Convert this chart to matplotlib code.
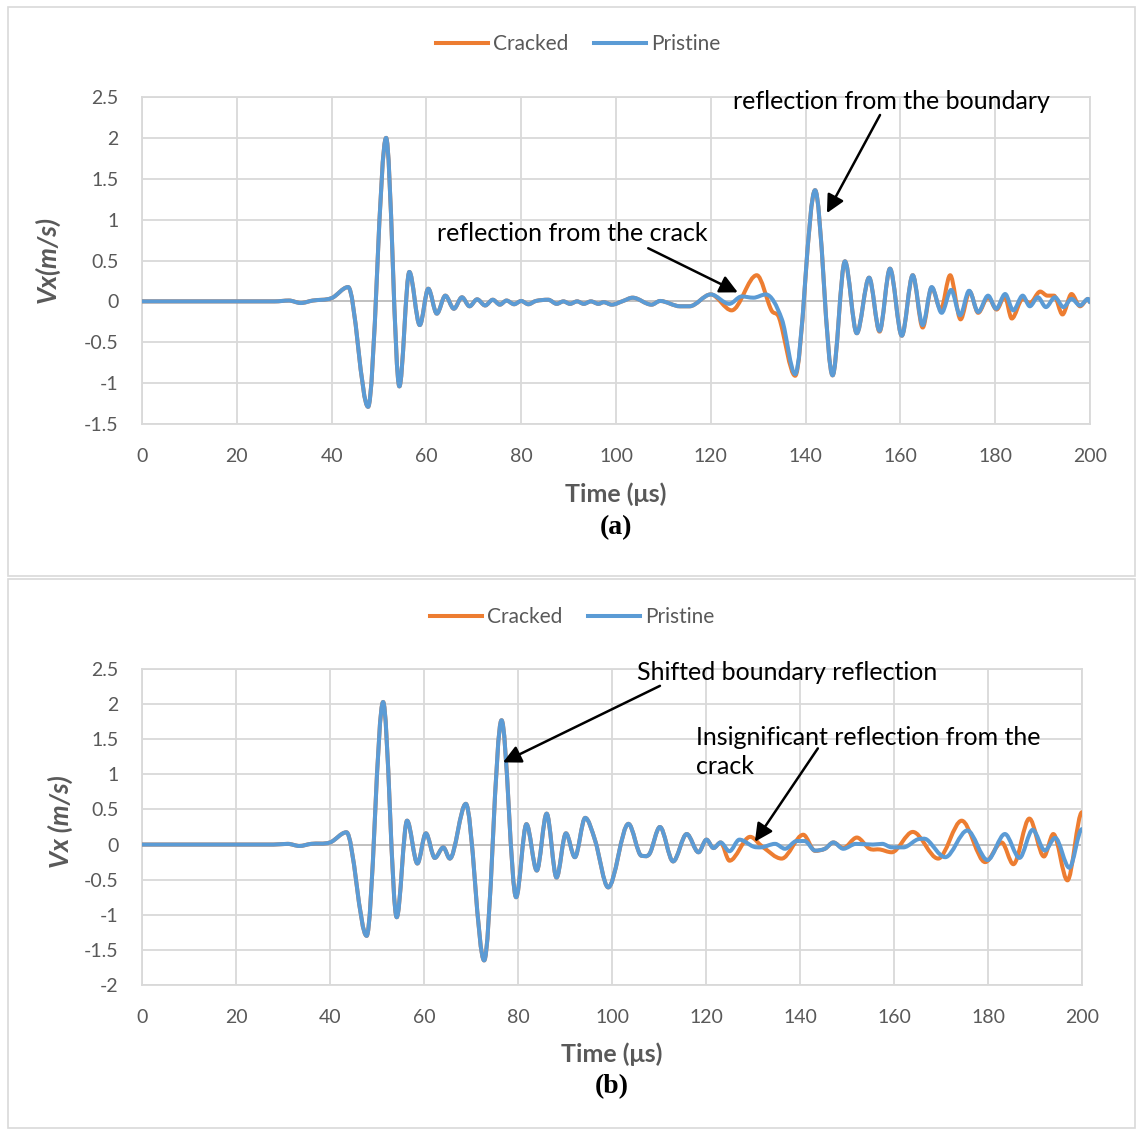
import numpy as np
import matplotlib
matplotlib.use("Agg")
import matplotlib.pyplot as plt
from matplotlib.path import Path
from matplotlib.patches import PathPatch, Rectangle
from matplotlib.lines import Line2D

plt.rcParams['font.family'] = ['Lato', 'DejaVu Sans']

# ---- panel (a): extrema of Vx traces, time in microseconds ----
ta_pristine = [0, 10, 20, 28, 31, 33.5, 36, 40, 43.5, 47.7, 51.5, 54.3, 56.4, 58.6, 60.4, 62.2,
               64.0, 65.8, 67.5, 69.1, 70.7, 72.4, 74.0, 75.5, 76.9, 78.5, 80.0, 81.5, 83.1,
               85.7, 87.5, 88.9, 90.3, 91.8, 93.2, 94.7, 96.3, 97.4, 99.1, 101.5, 103.5, 107.5,
               109.3, 113.5, 115.5, 120.0, 123.9, 126.5, 129.0, 131.6, 135.0, 137.8, 142.0,
               145.7, 148.3, 150.8, 153.4, 155.6, 157.8, 160.3, 162.6, 164.7, 166.6, 168.7,
               170.7, 172.6, 174.5, 176.4, 178.5, 180.2, 182.1, 183.8, 185.8, 187.3, 189.0,
               190.7, 192.6, 194.4, 196.1, 197.9, 199.6, 200]
va_pristine = [0, 0, 0, 0, 0.01, -0.02, 0.01, 0.04, 0.175, -1.29, 2.0, -1.04, 0.36, -0.29, 0.155,
               -0.15, 0.07, -0.09, 0.05, -0.06, 0.025, -0.05, 0.02, -0.04, 0.01, -0.035, 0.005,
               -0.035, 0.005, 0.02, -0.03, 0.0, -0.03, 0.0, -0.03, 0.0, -0.03, -0.01, -0.04,
               0.005, 0.045, -0.04, 0.005, -0.06, -0.06, 0.085, -0.03, 0.06, 0.045, 0.085,
               -0.22, -0.89, 1.36, -0.905, 0.49, -0.39, 0.29, -0.36, 0.40, -0.42, 0.32, -0.29,
               0.175, -0.14, 0.14, -0.17, 0.13, -0.13, 0.07, -0.09, 0.09, -0.11, 0.07, -0.06,
               0.05, -0.07, 0.05, -0.07, 0.03, -0.05, 0.03, -0.01]

ta_cracked = [0, 10, 20, 28, 31, 33.5, 36, 40, 43.5, 47.7, 51.5, 54.3, 56.4, 58.6, 60.4, 62.2,
              64.0, 65.8, 67.5, 69.1, 70.7, 72.4, 74.0, 75.5, 76.9, 78.5, 80.0, 81.5, 83.1,
              85.7, 87.5, 88.9, 90.3, 91.8, 93.2, 94.7, 96.3, 97.4, 99.1, 101.5, 103.5, 107.5,
              109.3, 113.5, 115.5, 120.0, 124.4, 129.7, 132.8, 134.4, 137.8, 142.0, 145.7,
              148.3, 150.8, 153.4, 155.6, 157.8, 160.3, 162.6, 164.7, 166.6, 168.5, 170.5,
              172.7, 174.6, 176.4, 178.5, 180.3, 182.0, 183.5, 185.8, 187.3, 189.5, 191.0,
              192.4, 194.2, 196.1, 197.9, 199.6, 200]
va_cracked = [0, 0, 0, 0, 0.01, -0.02, 0.01, 0.04, 0.175, -1.29, 2.0, -1.04, 0.36, -0.29, 0.155,
              -0.15, 0.07, -0.09, 0.05, -0.06, 0.025, -0.05, 0.02, -0.04, 0.01, -0.035, 0.005,
              -0.035, 0.005, 0.02, -0.03, 0.0, -0.03, 0.0, -0.03, 0.0, -0.03, -0.01, -0.04,
              0.005, 0.045, -0.04, 0.005, -0.06, -0.06, 0.085, -0.11, 0.32, -0.11, -0.2,
              -0.91, 1.36, -0.905, 0.49, -0.39, 0.29, -0.37, 0.40, -0.42, 0.32, -0.32, 0.17,
              -0.10, 0.32, -0.22, 0.12, -0.14, 0.05, -0.10, 0.06, -0.21, 0.03, -0.02, 0.12,
              0.07, 0.07, -0.16, 0.09, -0.06, 0.03, -0.01]

# ---- panel (b) ----
tb_pristine = [0, 10, 20, 28, 31, 33.5, 36, 40, 43.5, 47.8, 51.3, 54.2, 56.4, 58.6, 60.4, 62.3,
               64.1, 65.5, 68.9, 72.8, 76.5, 79.6, 81.8, 84.0, 86.1, 88.2, 90.2, 92.1, 94.3,
               96.4, 99.2, 103.5, 106.3, 108.0, 110.2, 113.0, 115.9, 118.4, 120.1, 121.6,
               123.1, 125.0, 127.1, 130.1, 131.6, 134.7, 136.8, 139.3, 141.0, 143.2, 145.3,
               147.1, 149.2, 151.9, 155.5, 157.5, 159.5, 162.0, 165.5, 167.0, 170.9, 175.6,
               179.9, 183.6, 186.7, 189.5, 192.1, 194.3, 197.3, 200]
vb_pristine = [0, 0, 0, 0, 0.01, -0.02, 0.01, 0.03, 0.175, -1.30, 2.03, -1.035, 0.34, -0.27,
               0.16, -0.19, -0.04, -0.2, 0.58, -1.65, 1.77, -0.75, 0.29, -0.37, 0.44, -0.47,
               0.16, -0.18, 0.38, 0.06, -0.61, 0.295, -0.16, -0.13, 0.25, -0.24, 0.15, -0.11,
               0.07, -0.05, 0.03, -0.095, 0.07, -0.03, -0.04, 0.01, -0.06, 0.05, 0.05, -0.085,
               -0.06, 0.03, -0.06, 0.01, 0.0, 0.01, -0.04, -0.04, 0.08, 0.07, -0.18, 0.2,
               -0.22, 0.15, -0.19, 0.21, -0.085, 0.095, -0.33, 0.22]

tb_cracked = [0, 10, 20, 28, 31, 33.5, 36, 40, 43.5, 47.8, 51.3, 54.2, 56.4, 58.6, 60.4, 62.3,
              64.1, 65.5, 68.9, 72.8, 76.5, 79.6, 81.8, 84.0, 86.1, 88.2, 90.2, 92.1, 94.3,
              96.4, 99.2, 103.5, 106.3, 108.0, 110.2, 113.0, 115.9, 118.4, 120.1, 121.6,
              123.1, 125.0, 129.4, 132.0, 136.1, 140.7, 143.2, 145.3, 147.1, 149.2, 152.1,
              154.8, 157.0, 159.5, 164.0, 169.4, 174.4, 179.4, 182.9, 185.4, 188.8, 191.9,
              193.9, 196.9, 200]
vb_cracked = [0, 0, 0, 0, 0.01, -0.02, 0.01, 0.03, 0.175, -1.30, 2.03, -1.035, 0.34, -0.27,
              0.16, -0.19, -0.04, -0.2, 0.58, -1.65, 1.77, -0.75, 0.29, -0.37, 0.44, -0.47,
              0.16, -0.18, 0.38, 0.06, -0.61, 0.295, -0.16, -0.13, 0.25, -0.24, 0.15, -0.11,
              0.07, -0.05, 0.03, -0.23, 0.11, -0.03, -0.2, 0.14, -0.09, -0.06, 0.03, -0.05,
              0.10, -0.06, -0.07, -0.11, 0.18, -0.2, 0.34, -0.25, 0.03, -0.28, 0.37, -0.17,
              0.15, -0.51, 0.46]

ORANGE = '#ED7D31'
BLUE = '#5B9BD5'
GRID = '#D9D9D9'
GREY_TXT = '#595959'

W, H = 1136, 1131
fig = plt.figure(figsize=(W / 100, H / 100), dpi=100)


def fx(px):
    return px / W


def fy(py):
    return 1 - py / H


def smooth_path(t, v):
    # smoothed line (cubic Hermite segments as Bezier curves), flat at peaks/troughs
    t = np.asarray(t, float)
    v = np.asarray(v, float)
    m = np.zeros_like(v)
    m[1:-1] = (v[2:] - v[:-2]) / (t[2:] - t[:-2])
    turn = np.zeros_like(v, dtype=bool)
    turn[1:-1] = (v[1:-1] - v[:-2]) * (v[2:] - v[1:-1]) <= 0
    m[turn] = 0
    verts = [(t[0], v[0])]
    codes = [Path.MOVETO]
    for i in range(len(t) - 1):
        h = t[i + 1] - t[i]
        verts += [(t[i] + h / 3, v[i] + m[i] * h / 3),
                  (t[i + 1] - h / 3, v[i + 1] - m[i + 1] * h / 3),
                  (t[i + 1], v[i + 1])]
        codes += [Path.CURVE4] * 3
    return Path(verts, codes)


def panel(box, ylim, yticks, tc, vc, tp, vp):
    x0, y0, x1, y1 = box
    ax = fig.add_axes([fx(x0), fy(y1), fx(x1 - x0), (y1 - y0) / H])
    ax.set_xlim(0, 200)
    ax.set_ylim(*ylim)
    ax.set_xticks(range(0, 201, 20))
    ax.set_yticks(yticks)
    ax.set_yticklabels([('%g' % y) for y in yticks])
    ax.grid(True, color=GRID, lw=1.3)
    ax.set_axisbelow(True)
    for s in ax.spines.values():
        s.set_color(GRID)
        s.set_linewidth(1.3)
    ax.axhline(0, color='#BFBFBF', lw=1.3, zorder=1)
    ax.tick_params(length=0, pad=17, labelsize=14, labelcolor=GREY_TXT)
    for t, v, c in ((tc, vc, ORANGE), (tp, vp, BLUE)):
        ax.add_patch(PathPatch(smooth_path(t, v), fill=False, edgecolor=c, lw=2.9,
                               capstyle='round', joinstyle='round', zorder=3))
    return ax


def legend(cx, cy):
    handles = [Line2D([], [], color=ORANGE, lw=2.9), Line2D([], [], color=BLUE, lw=2.9)]
    fig.legend(handles, ['Cracked', 'Pristine'], loc='center', bbox_to_anchor=(fx(cx), fy(cy)),
               ncol=2, frameon=False, fontsize=15, labelcolor=GREY_TXT, handlelength=2.5,
               handletextpad=0.25, columnspacing=1.2)


def arrow(ax, tip, tail):
    ax.annotate('', xy=tip, xytext=tail,
                arrowprops=dict(arrowstyle='-|>,head_length=0.6,head_width=0.3',
                                color='black', lw=1.8, mutation_scale=18,
                                shrinkA=0, shrinkB=0), zorder=5)


# outer frames of the two sub-figures
fig.patches.append(Rectangle((fx(8), fy(576)), fx(1127), (576 - 7) / H, transform=fig.transFigure,
                             fill=False, edgecolor=GRID, lw=1.2))
fig.patches.append(Rectangle((fx(8), fy(1128)), fx(1127), (1128 - 579) / H, transform=fig.transFigure,
                             fill=False, edgecolor=GRID, lw=1.2))

# (a)
axa = panel((142, 97, 1090, 424), (-1.5, 2.5), [-1.5, -1, -0.5, 0, 0.5, 1, 1.5, 2, 2.5],
            ta_cracked, va_cracked, ta_pristine, va_pristine)
legend(578, 44)
fig.text(fx(47), fy(260), 'Vx(m/s)', rotation=90, ha='center', va='center', fontsize=19,
         fontweight='bold', fontstyle='italic', color=GREY_TXT)
fig.text(fx(616), fy(494), 'Time (μs)', ha='center', va='center', fontsize=18,
         fontweight='bold', color=GREY_TXT)
fig.text(fx(616), fy(528), '(a)', ha='center', va='center', fontsize=20, fontweight='bold',
         family='Liberation Serif')
axa.text(158.2, 2.45, 'reflection from the boundary', ha='center', va='center', fontsize=18,
         clip_on=False)
axa.text(90.7, 0.83, 'reflection from the crack', ha='center', va='center', fontsize=18)
arrow(axa, (144.5, 1.08), (155.7, 2.28))
arrow(axa, (125.7, 0.11), (106.8, 0.65))

# (b)
axb = panel((142, 669, 1082, 985), (-2, 2.5), [-2, -1.5, -1, -0.5, 0, 0.5, 1, 1.5, 2, 2.5],
            tb_cracked, vb_cracked, tb_pristine, vb_pristine)
legend(572, 617)
fig.text(fx(60), fy(822), 'Vx (m/s)', rotation=90, ha='center', va='center', fontsize=19,
         fontweight='bold', fontstyle='italic', color=GREY_TXT)
fig.text(fx(612), fy(1054), 'Time (μs)', ha='center', va='center', fontsize=18,
         fontweight='bold', color=GREY_TXT)
fig.text(fx(612), fy(1087), '(b)', ha='center', va='center', fontsize=20, fontweight='bold',
         family='Liberation Serif')
axb.text(137.2, 2.45, 'Shifted boundary reflection', ha='center', va='center', fontsize=18,
         clip_on=False)
axb.text(117.9, 1.32, 'Insignificant reflection from the\ncrack', ha='left', va='center',
         fontsize=18, linespacing=1.3)
arrow(axb, (76.8, 1.17), (110.2, 2.26))
arrow(axb, (130.4, 0.04), (143.8, 1.37))

fig.savefig('out.png', dpi=100)
